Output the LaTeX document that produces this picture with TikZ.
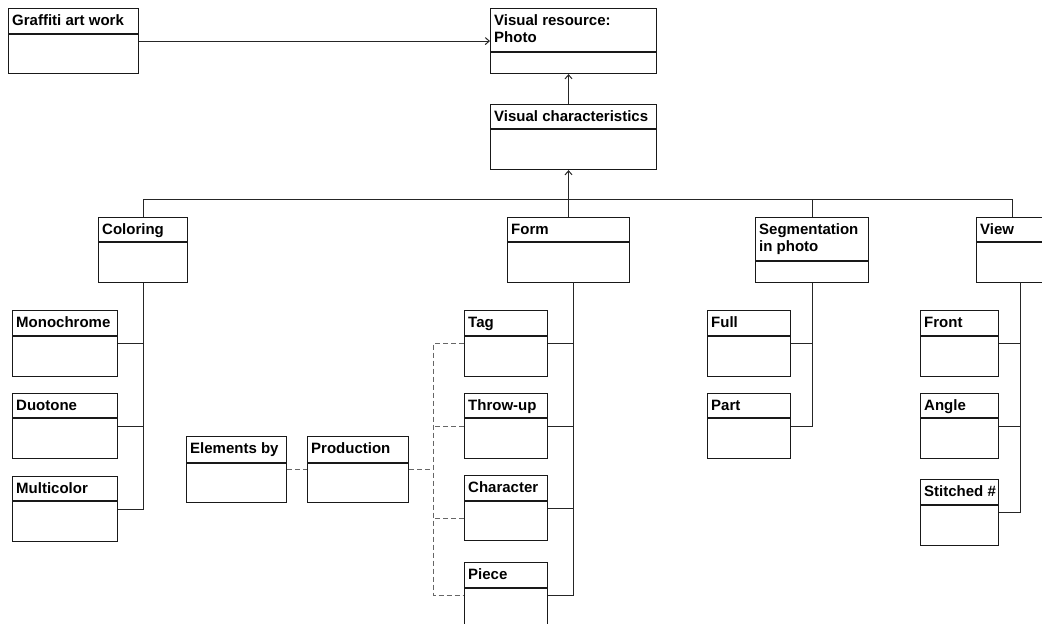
\documentclass[tikz,border=0pt]{standalone}
\usepackage{fontspec}
\setmainfont{Liberation Sans}
\usetikzlibrary{arrows.meta,calc}

\tikzset{
  cls/.style={draw=black!90, line width=1.1pt, rectangle, inner sep=0pt, anchor=north west},
  clsline/.style={draw=black!90, line width=1.1pt},
  clstitle/.style={inner sep=0pt, anchor=north west, align=left,
                   font=\bfseries\fontsize{15}{17}\selectfont},
  link/.style={draw=black!85, line width=1pt},
  dlink/.style={draw=black!60, line width=1pt, dash pattern=on 5pt off 3pt},
  navarrow/.style={link, -{Straight Barb[length=4pt,width=7pt,line width=1pt]}}
}

% #1 name, #2 left, #3 top, #4 width, #5 height, #6 header depth, #7 title
\newcommand{\classbox}[7]{%
  \node[cls, minimum width=#4pt, minimum height=#5pt] (#1) at (#2,#3) {};
  \draw[clsline] ([yshift=-#6pt]#1.north west) -- ([yshift=-#6pt]#1.north east);
  \node[clstitle] (#1-t) at ([xshift=4pt,yshift=-6.5pt]#1.north west) {#7};
}

\begin{document}
\begin{tikzpicture}[x=1pt,y=-1pt]
\useasboundingbox (0,0) rectangle (1042,624);
\clip (0,0) rectangle (1042,624);

% top level
\classbox{graffiti}{8}{8}{130}{65}{26}{Graffiti art work}
\classbox{photo}{490}{8}{166}{65}{44}{Visual resource:\\Photo}
\classbox{vischar}{490}{104}{166}{65}{25}{Visual characteristics}

% characteristics
\classbox{coloring}{98}{217}{89}{65}{25}{Coloring}
\classbox{form}{507}{217}{122}{65}{25}{Form}
\classbox{seg}{755}{217}{113}{65}{44}{Segmentation\\in photo}
\classbox{view}{976}{217}{122}{65}{25}{View}

% coloring values
\classbox{mono}{12}{310}{105}{66}{26}{Monochrome}
\classbox{duo}{12}{393}{105}{65}{25}{Duotone}
\classbox{multi}{12}{476}{105}{65}{25}{Multicolor}

% production
\classbox{elem}{186}{436}{100}{66}{27}{Elements by}
\classbox{prod}{307}{436}{101}{66}{27}{Production}

% form values
\classbox{tag}{464}{310}{83}{66}{26}{Tag}
\classbox{throw}{464}{393}{83}{65}{25}{Throw-up}
\classbox{char}{464}{475}{83}{65}{26}{Character}
\classbox{piece}{464}{562}{83}{65}{26}{Piece}

% segmentation values
\classbox{full}{707}{310}{83}{66}{26}{Full}
\classbox{part}{707}{393}{83}{65}{25}{Part}

% view values
\classbox{front}{920}{310}{78}{66}{26}{Front}
\classbox{angle}{920}{393}{78}{65}{25}{Angle}
\classbox{stitch}{920}{479}{78}{66}{26}{Stitched \#}

% helper points
\coordinate (bus) at (0,199);
\coordinate (vtop) at (1012,217);
\coordinate (vbot) at (1020,282);
\coordinate (fbot) at (573,282);
\coordinate (dash) at (433,0);

% associations to the photo
\draw[navarrow] (graffiti.east) -- (graffiti.east -| photo.west);
\draw[navarrow] ([xshift=-5pt]vischar.north) -- ([xshift=-5pt]photo.south);
\draw[navarrow] ([xshift=-5pt]vischar.south |- bus) -- ([xshift=-5pt]vischar.south);

% bus to the characteristics
\draw[link] (coloring.north) -- (coloring.north |- bus) -- (vtop |- bus) -- (vtop);
\draw[link] (seg.north) -- (seg.north |- bus);
\draw[link] (form.north) -- (form.north |- bus);

% coloring tree
\draw[link] (coloring.south) -- (coloring.south |- multi.east) -- (multi.east);
\draw[link] (mono.east) -- (mono.east -| coloring.south);
\draw[link] (duo.east) -- (duo.east -| coloring.south);

% form tree
\draw[link] (fbot) -- (fbot |- piece.east) -- (piece.east);
\draw[link] (tag.east) -- (tag.east -| fbot);
\draw[link] (throw.east) -- (throw.east -| fbot);
\draw[link] (char.east) -- (char.east -| fbot);

% segmentation tree
\draw[link] (seg.south) -- (seg.south |- part.east) -- (part.east);
\draw[link] (full.east) -- (full.east -| seg.south);

% view tree
\draw[link] (vbot) -- (vbot |- stitch.east) -- (stitch.east);
\draw[link] (front.east) -- (front.east -| vbot);
\draw[link] (angle.east) -- (angle.east -| vbot);

% dashed production links
\draw[dlink] (elem.east) -- (prod.west);
\draw[dlink] (prod.east) -- (prod.east -| dash);
\draw[dlink] (tag.west) -- (tag.west -| dash) -- (dash |- piece.west) -- (piece.west);
\draw[dlink] (throw.west) -- (throw.west -| dash);
\draw[dlink] ([yshift=-10pt]char.west) -- ([yshift=-10pt]char.west -| dash);
\end{tikzpicture}
\end{document}
